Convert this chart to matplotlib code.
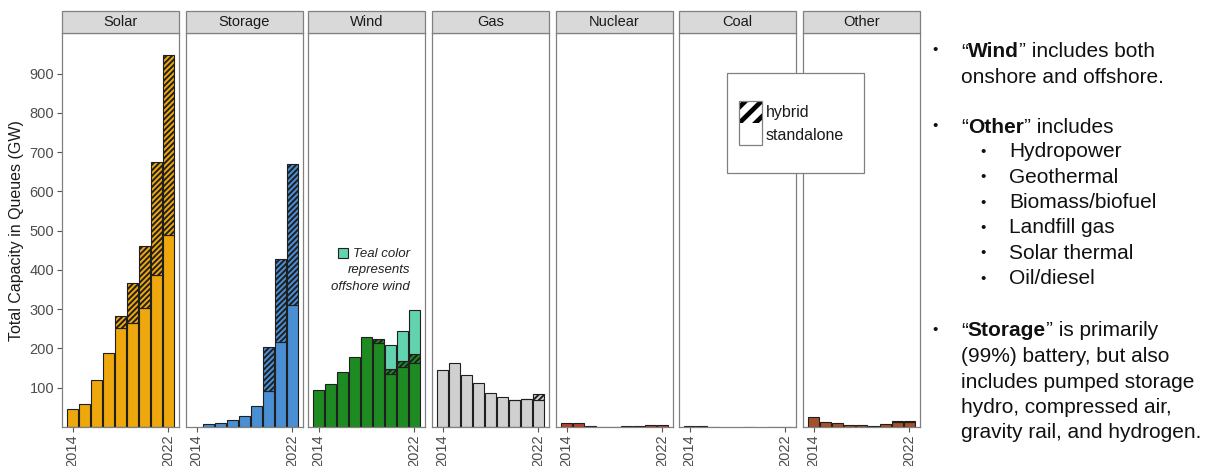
import numpy as np
import matplotlib
matplotlib.use('Agg')
import matplotlib.pyplot as plt
from matplotlib.patches import Rectangle

plt.rcParams['font.family'] = ['Liberation Sans', 'DejaVu Sans']
plt.rcParams['hatch.linewidth'] = 1.4

# ---- data (GW) ----
years = [2014, 2015, 2016, 2017, 2018, 2019, 2020, 2021, 2022]
techs = ['Solar', 'Storage', 'Wind', 'Gas', 'Nuclear', 'Coal', 'Other']
colors = ['#EEA70D', '#4A8FD4', '#1E8A22', '#D0D0D0', '#B8402E', '#4D4D4D', '#A4502A']
offshore_color = '#63D2AE'

standalone = {
    'Solar':   [45, 58, 120, 188, 253, 264, 302, 387, 489],
    'Storage': [0, 7, 11, 19, 28, 54, 91, 217, 311],
    'Wind':    [95, 109, 141, 179, 230, 214, 134, 152, 162],
    'Gas':     [146, 164, 133, 112, 86, 77, 68, 71, 69],
    'Nuclear': [10, 10, 3, 1, 1, 2, 2, 4, 4],
    'Coal':    [2, 2, 1, 0, 0, 1, 0, 1, 1],
    'Other':   [26, 13, 9, 5, 6, 2, 7, 12, 12],
}
hybrid = {
    'Solar':   [0, 0, 0, 0, 30, 102, 160, 287, 458],
    'Storage': [0, 0, 0, 0, 0, 0, 113, 211, 359],
    'Wind':    [0, 0, 0, 0, 0, 11, 13, 17, 24],
    'Gas':     [0, 0, 0, 0, 0, 0, 1, 1, 15],
    'Nuclear': [0, 0, 0, 0, 0, 0, 0, 0, 0],
    'Coal':    [0, 0, 0, 0, 0, 0, 0, 0, 0],
    'Other':   [0, 0, 0, 0, 0, 0, 0, 3, 4],
}
wind_offshore = [0, 0, 0, 0, 0, 0, 62, 76, 112]

yticks = [100, 200, 300, 400, 500, 600, 700, 800, 900]

W, H = 1211, 466
fig = plt.figure(figsize=(W / 100, H / 100), dpi=100)


def fx(px):
    return px / W


def fy(py):
    return 1 - py / H


panel_left = [62, 186, 308, 432, 556, 679, 803]
panel_w = 117
top_px, bot_px = 33.3, 427
edge = '#1f1f1f'
grey_txt = '#4D4D4D'


def draw_bars(ax, vals, bottom, **kw):
    vals = np.asarray(vals, float)
    bottom = np.asarray(bottom, float)
    m = vals > 0
    ax.bar(np.array(years)[m], vals[m], bottom=bottom[m], width=0.96,
           edgecolor=edge, linewidth=0.8, **kw)


for i, tech in enumerate(techs):
    ax = fig.add_axes([fx(panel_left[i]), fy(bot_px), fx(panel_w),
                       (bot_px - top_px) / H])
    s = np.array(standalone[tech], float)
    h = np.array(hybrid[tech], float)
    draw_bars(ax, s, np.zeros(len(years)), color=colors[i])
    draw_bars(ax, h, s, color=colors[i], hatch='//////')
    if tech == 'Wind':
        draw_bars(ax, wind_offshore, s + h, color=offshore_color)

    ax.set_xlim(2013.1, 2022.9)
    ax.set_ylim(0, 1003)
    ax.set_xticks([2014, 2022])
    ax.set_xticklabels(['2014', '2022'], rotation=90, fontsize=10.5, color=grey_txt)
    ax.tick_params(axis='x', length=3.5, width=0.8, color='#555555', pad=2)
    if i == 0:
        ax.set_yticks(yticks)
        ax.set_yticklabels([str(v) for v in yticks], fontsize=10.5, color=grey_txt)
        ax.tick_params(axis='y', length=3.5, width=0.8, color='#555555', pad=2)
        ax.set_ylabel('Total Capacity in Queues (GW)', fontsize=11.5,
                      color='#1a1a1a', labelpad=4)
    else:
        ax.set_yticks([])
    for sp in ax.spines.values():
        sp.set_color('#808080')
        sp.set_linewidth(0.9)

    # facet strip
    fig.add_artist(Rectangle((fx(panel_left[i]), fy(top_px)), fx(panel_w),
                             (top_px - 10.5) / H, transform=fig.transFigure,
                             facecolor='#D9D9D9', edgecolor='#808080', lw=0.9))
    fig.text(fx(panel_left[i] + panel_w / 2), fy(22), tech, ha='center',
             va='center', fontsize=10.5, color='#1a1a1a')

# teal note in Wind panel
fig.add_artist(Rectangle((fx(338), fy(257.5)), fx(9.5), 9.5 / H,
                         transform=fig.transFigure, facecolor=offshore_color,
                         edgecolor=edge, lw=0.8))
for txt, py in [('Teal color', 254), ('represents', 270.5), ('offshore wind', 286.5)]:
    fig.text(fx(410), fy(py), txt, ha='right', va='center', fontsize=9.5,
             style='italic', color='#222222')

# hybrid / standalone legend box
fig.add_artist(Rectangle((fx(727), fy(172.5)), fx(137), 99.5 / H,
                         transform=fig.transFigure, facecolor='white',
                         edgecolor='#808080', lw=0.9, zorder=10))
kax = fig.add_axes([fx(739), fy(123.3), fx(23), 22.6 / H], zorder=11)
kax.set_xlim(0, 1)
kax.set_ylim(0, 1)
for c in [-0.7, 0, 0.7]:
    kax.plot([-0.5, 1.5], [-0.5 + c, 1.5 + c], color='black', lw=3.4,
             solid_capstyle='butt')
kax.axis('off')
fig.add_artist(Rectangle((fx(739), fy(145)), fx(23), 44.3 / H,
                         transform=fig.transFigure, facecolor='none',
                         edgecolor='#808080', lw=0.9, zorder=12))
fig.text(fx(766), fy(112.5), 'hybrid', ha='left', va='center', fontsize=11.5,
         color='#1a1a1a', zorder=12)
fig.text(fx(766), fy(135.5), 'standalone', ha='left', va='center', fontsize=11.5,
         color='#1a1a1a', zorder=12)

# ---- right-hand notes ----
renderer = fig.canvas.get_renderer()
note_size = 15


def rich(px, py, parts):
    x = fx(px)
    for s, w in parts:
        t = fig.text(x, fy(py), s, ha='left', va='center', fontsize=note_size,
                     fontweight=w, color='#111111')
        x += t.get_window_extent(renderer).width / W


def bullet(px, py):
    fig.text(fx(px), fy(py), '•', ha='center', va='center', fontsize=11,
             color='#111111')


bullet(935, 50)
rich(961, 51.5, [('“', 'normal'), ('Wind', 'bold'), ('” includes both', 'normal')])
rich(961, 77.5, [('onshore and offshore.', 'normal')])

bullet(935, 126)
rich(961, 127, [('“', 'normal'), ('Other', 'bold'), ('” includes', 'normal')])
for k, item in enumerate(['Hydropower', 'Geothermal', 'Biomass/biofuel',
                          'Landfill gas', 'Solar thermal', 'Oil/diesel']):
    py = 152 + 25.3 * k
    bullet(983, py)
    rich(1009, py, [(item, 'normal')])

bullet(935, 330)
rich(961, 331, [('“', 'normal'), ('Storage', 'bold'), ('” is primarily', 'normal')])
for k, line in enumerate(['(99%) battery, but also', 'includes pumped storage',
                          'hydro, compressed air,', 'gravity rail, and hydrogen.']):
    rich(961, 356.5 + 25.5 * k, [(line, 'normal')])

fig.savefig('out.png', dpi=100)
